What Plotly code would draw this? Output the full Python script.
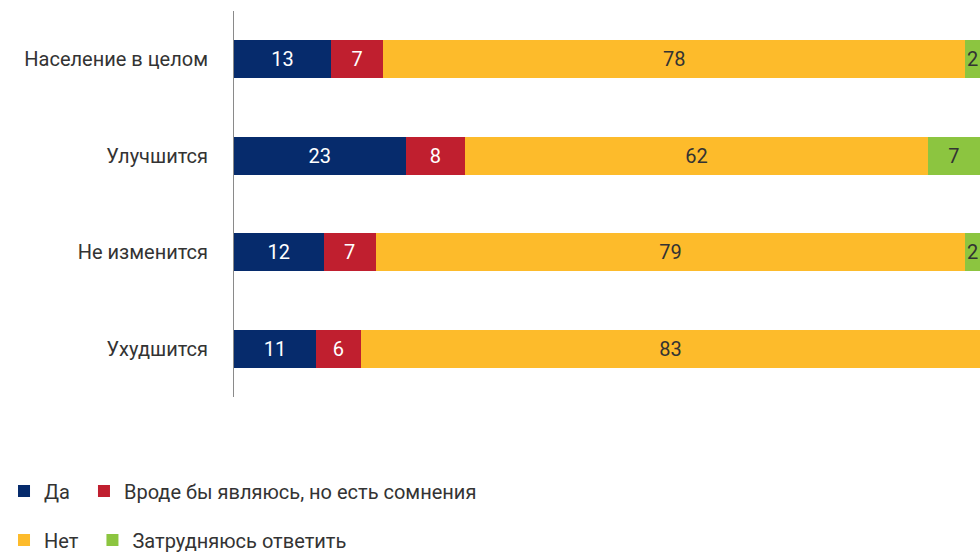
import plotly.graph_objects as go

categories = ["Население в целом", "Улучшится", "Не изменится", "Ухудшится"]
series_names = ["Да", "Вроде бы являюсь, но есть сомнения", "Нет", "Затрудняюсь ответить"]
da = [13, 23, 12, 11]
vrode = [7, 8, 7, 6]
net = [78, 62, 79, 83]
zatr = [2, 7, 2, 0]

colors = ["#062B6C", "#C01F2F", "#FDBB2B", "#8CC540"]
text_colors = ["#FFFFFF", "#FFFFFF", "#333333", "#333333"]
legends = ["legend", "legend", "legend2", "legend2"]
legend_pad = ["\u00a0\u2009", "", "\u00a0\u2009", ""]
FONT = "Roboto"
FS = 20

fig = go.Figure()
for name, vals, col, tcol, lg, pad in zip(series_names, [da, vrode, net, zatr], colors,
                                          text_colors, legends, legend_pad):
    fig.add_trace(go.Bar(
        y=categories, x=vals, name=name + pad, orientation="h",
        marker=dict(color=col, line=dict(width=0)),
        text=[str(v) if v else "" for v in vals],
        textposition="inside", insidetextanchor="middle", textangle=0,
        textfont=dict(color=tcol, size=FS, family=FONT),
        hoverinfo="skip", legend=lg,
    ))

fig.update_layout(
    barmode="stack", bargap=0.606,
    width=980, height=553,
    margin=dict(l=234, r=0, t=11, b=156, autoexpand=False),
    paper_bgcolor="white", plot_bgcolor="white",
    font=dict(family=FONT, size=FS, color="#333333"),
    uniformtext=dict(minsize=FS, mode="show"),
    showlegend=True,
    legend=dict(orientation="h", x=-0.3083, xanchor="left", y=-0.2435, yanchor="middle",
                font=dict(size=FS, color="#333333"), traceorder="normal",
                bgcolor="rgba(0,0,0,0)"),
    legend2=dict(orientation="h", x=-0.3083, xanchor="left", y=-0.3705, yanchor="middle",
                 font=dict(size=FS, color="#333333"), traceorder="normal",
                 bgcolor="rgba(0,0,0,0)"),
)
fig.update_xaxes(range=[0, 100], visible=False, fixedrange=True)
fig.update_yaxes(autorange="reversed", showline=True, linecolor="#8A8A8A", linewidth=1,
                 ticks="", ticklabelstandoff=21, showgrid=False, zeroline=False,
                 fixedrange=True, tickfont=dict(size=FS, color="#333333"))

fig.write_html("out.html", config={"displayModeBar": False},
               post_script="document.body.style.margin='0';document.body.style.overflow='hidden';")
